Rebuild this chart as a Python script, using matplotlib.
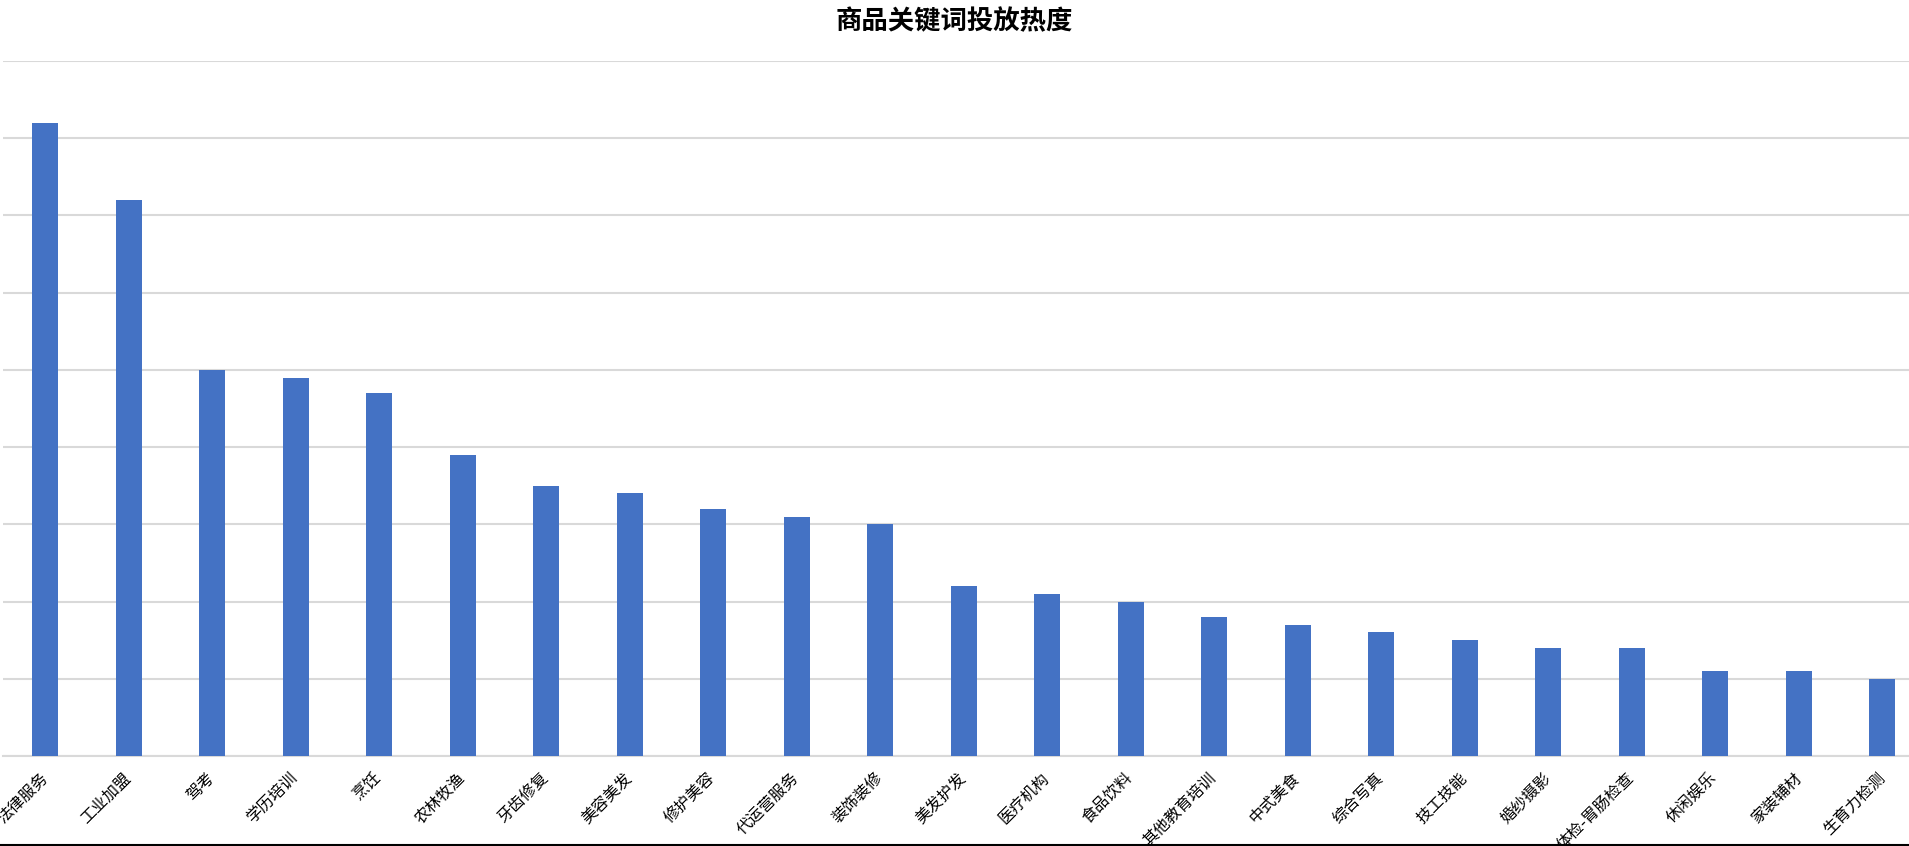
import matplotlib
matplotlib.use("Agg")
import matplotlib.pyplot as plt
from matplotlib.lines import Line2D

plt.rcParams['font.family'] = ['Noto Sans CJK SC', 'DejaVu Sans']

categories = ["法律服务", "工业加盟", "驾考", "学历培训", "烹饪", "农林牧渔", "牙齿修复",
              "美容美发", "修护美容", "代运营服务", "装饰装修", "美发护发", "医疗机构",
              "食品饮料", "其他教育培训", "中式美食", "综合写真", "技工技能", "婚纱摄影",
              "体检-胃肠检查", "休闲娱乐", "家装辅材", "生育力检测"]
values = [82, 72, 50, 49, 47, 39, 35, 34, 32, 31, 30, 22, 21, 20, 18, 17, 16, 15, 14,
          14, 11, 11, 10]

W, H = 1909, 846
fig = plt.figure(figsize=(W / 100, H / 100), dpi=100)
# plot area runs a bit past the right edge, like the source screenshot
left_px, right_px, top_px, bottom_px = 3.3, 1924, 61, 756
ax = fig.add_axes([left_px / W, 1 - bottom_px / H, (right_px - left_px) / W, (bottom_px - top_px) / H])

x = list(range(len(categories)))
ax.bar(x, values, width=0.31, color="#4472C4", zorder=3)

ax.set_xlim(-0.5, len(categories) - 0.5)
ax.set_ylim(0, 90)
ax.set_yticks(range(0, 91, 10))
ax.set_yticklabels([])
ax.tick_params(axis='y', length=0)
ax.grid(axis='y', color="#d9d9d9", linewidth=1.5, zorder=0)

ax.set_xticks(x)
ax.set_xticklabels(categories, rotation=45, ha='right', va='center',
                   rotation_mode='anchor', fontsize=11.5)
ax.tick_params(axis='x', length=0, pad=14)

for s in ['top', 'right', 'left']:
    ax.spines[s].set_visible(False)
ax.spines['bottom'].set_color("#d9d9d9")
ax.spines['bottom'].set_linewidth(1.5)

fig.text(0.5, 1 - 22 / H, "商品关键词投放热度", ha='center', va='center',
         fontsize=19, fontweight='bold')

# thin black border line at the very bottom of the image
fig.add_artist(Line2D([0, 1], [1.5 / H, 1.5 / H], color='black', linewidth=1.5,
                      transform=fig.transFigure))

fig.savefig("out.png", dpi=100)
